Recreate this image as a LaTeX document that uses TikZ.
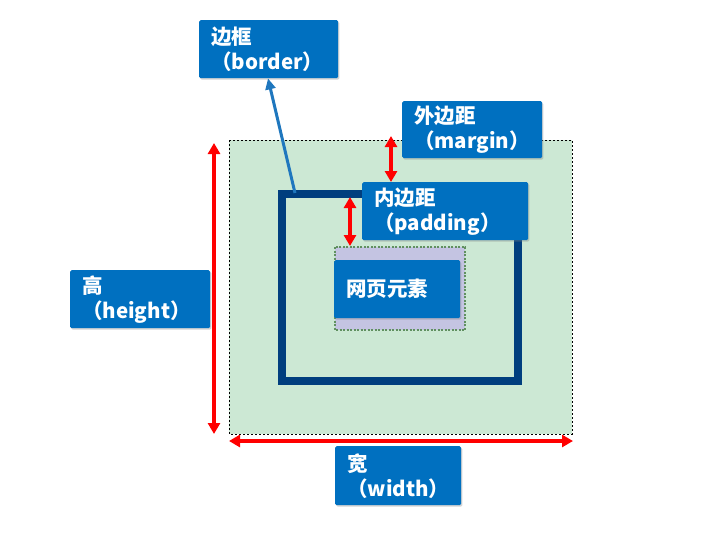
\documentclass[tikz,border=0pt]{standalone}
\usepackage{fontspec}
\newfontfamily\cjk{Noto Sans CJK SC}
\usetikzlibrary{arrows.meta,shadows}
\definecolor{boxblue}{RGB}{0,112,192}
\definecolor{linkblue}{RGB}{31,119,190}
\definecolor{marginfill}{RGB}{204,232,212}
\definecolor{framenavy}{RGB}{0,62,126}
\definecolor{padfill}{RGB}{196,196,226}
\definecolor{paddash}{RGB}{96,144,96}
\begin{document}
\begin{tikzpicture}[x=1pt,y=-1pt,
    labelbox/.style={fill=boxblue,text=white,rounded corners=1.5pt,
      font=\cjk\bfseries\fontsize{20.5}{25}\selectfont,align=left,
      inner xsep=12pt,inner ysep=0pt,anchor=north west,
      drop shadow={shadow xshift=1.2pt,shadow yshift=-1.5pt,opacity=0.35}},
    dimarrow/.style={red,line width=3.4pt,
      {Triangle[length=11pt,width=12pt]}-{Triangle[length=11pt,width=12pt]}}]
  \useasboundingbox (0,0) rectangle (728,544);

  % margin area
  \fill[marginfill] (229,140) rectangle (572,434);
  \draw[black,line width=0.8pt,dash pattern=on 2pt off 2pt] (229,140) rectangle (572,434);
  % border frame
  \draw[framenavy,line width=8pt] (282,193.5) rectangle (518,381);
  % padding area
  \fill[padfill] (335,247) rectangle (465,330);
  \draw[paddash,line width=1.2pt,dash pattern=on 2pt off 1.5pt] (335,247) rectangle (465,330);

  % labels
  \node[labelbox,text width=102pt,minimum height=58pt] (content) at (334,260) {网页元素};
  \node[labelbox,text width=115pt,minimum height=58pt] (borderlbl) at (199,20) {边框\\（border）};
  \node[labelbox,text width=116pt,minimum height=57pt] (marginlbl) at (402,101) {外边距\\（margin）};
  \node[labelbox,text width=142pt,minimum height=58pt] (paddinglbl) at (362,182) {内边距\\（padding）};
  \node[labelbox,text width=116pt,minimum height=58pt] (heightlbl) at (70,270) {高\\（height）};
  \node[labelbox,text width=102pt,minimum height=59pt] (widthlbl) at (335,446) {宽\\（width）};

  % arrows
  \coordinate (frametop) at (295,193);
  \coordinate (ht) at (214,143);
  \coordinate (hb) at (214,434);
  \coordinate (wl) at (229,441);
  \coordinate (wr) at (573,441);
  \coordinate (mt) at (391,136);
  \coordinate (pt) at (350,197);
  \coordinate (pb) at (350,246);
  \draw[linkblue,line width=3pt,-{Triangle[length=11pt,width=10pt]}]
    (frametop) -- (borderlbl.south west -| 268,0);
  \draw[dimarrow] (ht) -- (hb);
  \draw[dimarrow] (wl) -- (wr);
  \draw[dimarrow] (mt) -- (mt |- paddinglbl.north);
  \draw[dimarrow] (pt) -- (pb);
\end{tikzpicture}
\end{document}
